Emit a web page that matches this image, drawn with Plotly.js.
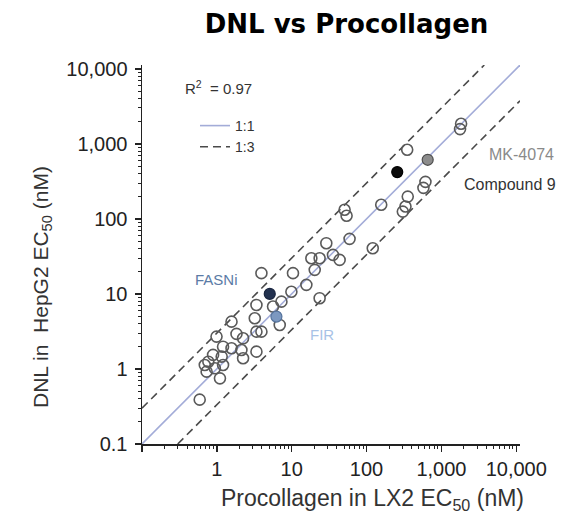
<!DOCTYPE html>
<html>
<head>
<meta charset="utf-8">
<script src="https://cdn.plot.ly/plotly-3.0.1.min.js"></script>
<style>html,body{margin:0;padding:0;background:#fff;}#chart{width:585px;height:526px;}</style>
</head>
<body>
<div id="chart"></div>
<script>
// Procollagen in LX2 EC50 (nM) vs DNL in HepG2 EC50 (nM) — open circles
const lx2EC50 = [0.59,0.73,0.69,0.77,0.89,0.94,1.10,1.16,1.21,0.99,1.21,1.57,1.83,2.24,2.13,2.24,1.57,3.38,3.38,3.94,3.21,3.38,3.94,5.63,7.29,6.92,10.4,9.9,15.7,23.6,18.3,23.6,20.3,29.0,35.6,43.7,59.3,121,50.9,54.1,157,305,331,355,612,575,349,1832,1774];
const hepg2EC50 = [0.39,0.92,1.13,1.25,1.54,1.02,0.75,1.46,1.13,2.7,1.98,1.89,2.93,2.56,1.79,1.39,4.27,1.70,3.14,3.14,4.74,7.13,18.9,6.78,7.89,3.86,18.9,10.7,13.2,8.77,29.9,29.9,20.9,47.4,33.1,28.4,54.1,40.6,132,110,154,125,146,198,311,259,832,1848,1570];

// Highlighted compounds
const hiNames = ["FASNi","FIR","Compound 9","MK-4074"];
const hiX = [5.09, 6.25, 257, 656];
const hiY = [10.0, 4.98, 420, 612];
const hiFill = ["#22314f","#7c98c0","#0b0b0b","#8c8c8c"];
const hiLine = ["#1a2640","#55739c","#000000","#4d4d4d"];

// Reference lines (unity and 3-fold)
const unityX = [0.1, 11220];
const unityY = [0.1, 11220];
const upperX = [0.1, 3740];
const upperY = [0.3, 11220];
const lowerX = [0.3, 11220];
const lowerY = [0.1, 3740];

// Axis ticks
const tickVals = [0.1, 1, 10, 100, 1000, 10000];
const yTickText = ["0.1", "1", "10", "100", "1,000", "10,000"];
const xTickText = ["", "1", "10", "100", "1,000", "10,000"];
const minorVals = [];
for (let e = -1; e <= 4; e++) {
  for (let m = 2; m <= 9; m++) {
    const v = m * Math.pow(10, e);
    if (v < 11220) minorVals.push(v);
  }
}

const FONT = "Liberation Sans, Arial, sans-serif";

const traces = [
  {x: unityX, y: unityY, mode: "lines", name: "1:1",
   line: {color: "#a3acd8", width: 1.6}, hoverinfo: "skip", showlegend: true},
  {x: upperX, y: upperY, mode: "lines", name: "1:3",
   line: {color: "#4a4a4a", width: 1.6, dash: "8px,5px"}, hoverinfo: "skip", showlegend: true},
  {x: lowerX, y: lowerY, mode: "lines", name: "1:3 lower",
   line: {color: "#4a4a4a", width: 1.6, dash: "8px,5px"}, hoverinfo: "skip", showlegend: false},
  {x: lx2EC50, y: hepg2EC50, mode: "markers", name: "compounds", showlegend: false,
   marker: {symbol: "circle-open", size: 11, color: "#5a5a5a", line: {width: 1.6, color: "#5a5a5a"}}},
  {x: hiX, y: hiY, mode: "markers", name: "highlighted", text: hiNames, showlegend: false,
   marker: {symbol: "circle", size: 11, color: hiFill, line: {width: 1.2, color: hiLine}}}
];

const annotations = [
  {xref: "paper", yref: "paper", x: (183-142)/378, y: (444-88)/379, xanchor: "left", yanchor: "middle",
   text: "R<sup>2</sup>\u00a0\u00a0= 0.97", showarrow: false, font: {family: FONT, size: 15, color: "#333"}},
  {xref: "x", yref: "y", x: Math.log10(1.0), y: Math.log10(15.4), xanchor: "center", yanchor: "middle",
   text: "FASNi", showarrow: false, font: {family: FONT, size: 15, color: "#5b7ba6"}},
  {xref: "x", yref: "y", x: Math.log10(25.1), y: Math.log10(2.84), xanchor: "center", yanchor: "middle",
   text: "FIR", showarrow: false, font: {family: FONT, size: 15, color: "#a7c2e6"}},
  {xref: "x", yref: "y", x: Math.log10(4100), y: Math.log10(713), xanchor: "left", yanchor: "middle",
   text: "MK-4074", showarrow: false, font: {family: FONT, size: 16, color: "#8a8a8a"}},
  {xref: "x", yref: "y", x: Math.log10(1905), y: Math.log10(284), xanchor: "left", yanchor: "middle",
   text: "Compound 9", showarrow: false, font: {family: FONT, size: 16, color: "#333"}},
  {xref: "paper", yref: "paper", x: (42-142)/378, y: (444-287)/379, xanchor: "center", yanchor: "middle",
   textangle: -90, text: "DNL in\u00a0\u00a0HepG2 EC<sub>50</sub> (nM)", showarrow: false,
   font: {family: FONT, size: 21, color: "#333"}},
  {xref: "paper", yref: "paper", x: (372-142)/378, y: -(499-444)/379, xanchor: "center", yanchor: "middle",
   text: "Procollagen in LX2 EC<sub>50</sub> (nM)", showarrow: false,
   font: {family: FONT, size: 23, color: "#333"}}
];

const axisCommon = {
  type: "log", range: [-1, 4.05], showgrid: false, zeroline: false,
  showline: true, linecolor: "#222", linewidth: 1.5,
  ticks: "outside", ticklen: 6, tickwidth: 1.5, tickcolor: "#222",
  tickmode: "array", tickvals: tickVals,
  tickfont: {family: FONT, size: 20, color: "#222"},
  minor: {ticks: "outside", ticklen: 3, tickwidth: 1, tickcolor: "#222", tickmode: "array", tickvals: minorVals, showgrid: false}
};

const layout = {
  width: 585, height: 526,
  margin: {l: 142, r: 65, t: 65, b: 82},
  paper_bgcolor: "#fff", plot_bgcolor: "#fff",
  title: {text: "DNL vs Procollagen", xref: "container", yref: "container",
          x: 346.5/585, xanchor: "center", y: 1 - 24/526, yanchor: "middle",
          font: {family: "DejaVu Sans, Open Sans, sans-serif", size: 26, weight: 700, color: "#000"}},
  xaxis: Object.assign({}, axisCommon, {ticktext: xTickText}),
  yaxis: Object.assign({}, axisCommon, {ticktext: yTickText, ticklabelstandoff: 3}),
  showlegend: true,
  legend: {x: (195-142)/378, y: (444-110)/379, xanchor: "left", yanchor: "top",
           bgcolor: "rgba(0,0,0,0)", borderwidth: 0,
           font: {family: FONT, size: 14, color: "#333"}, tracegroupgap: 0},
  annotations: annotations
};

Plotly.newPlot("chart", traces, layout, {displayModeBar: false, staticPlot: true});
</script>
</body>
</html>
